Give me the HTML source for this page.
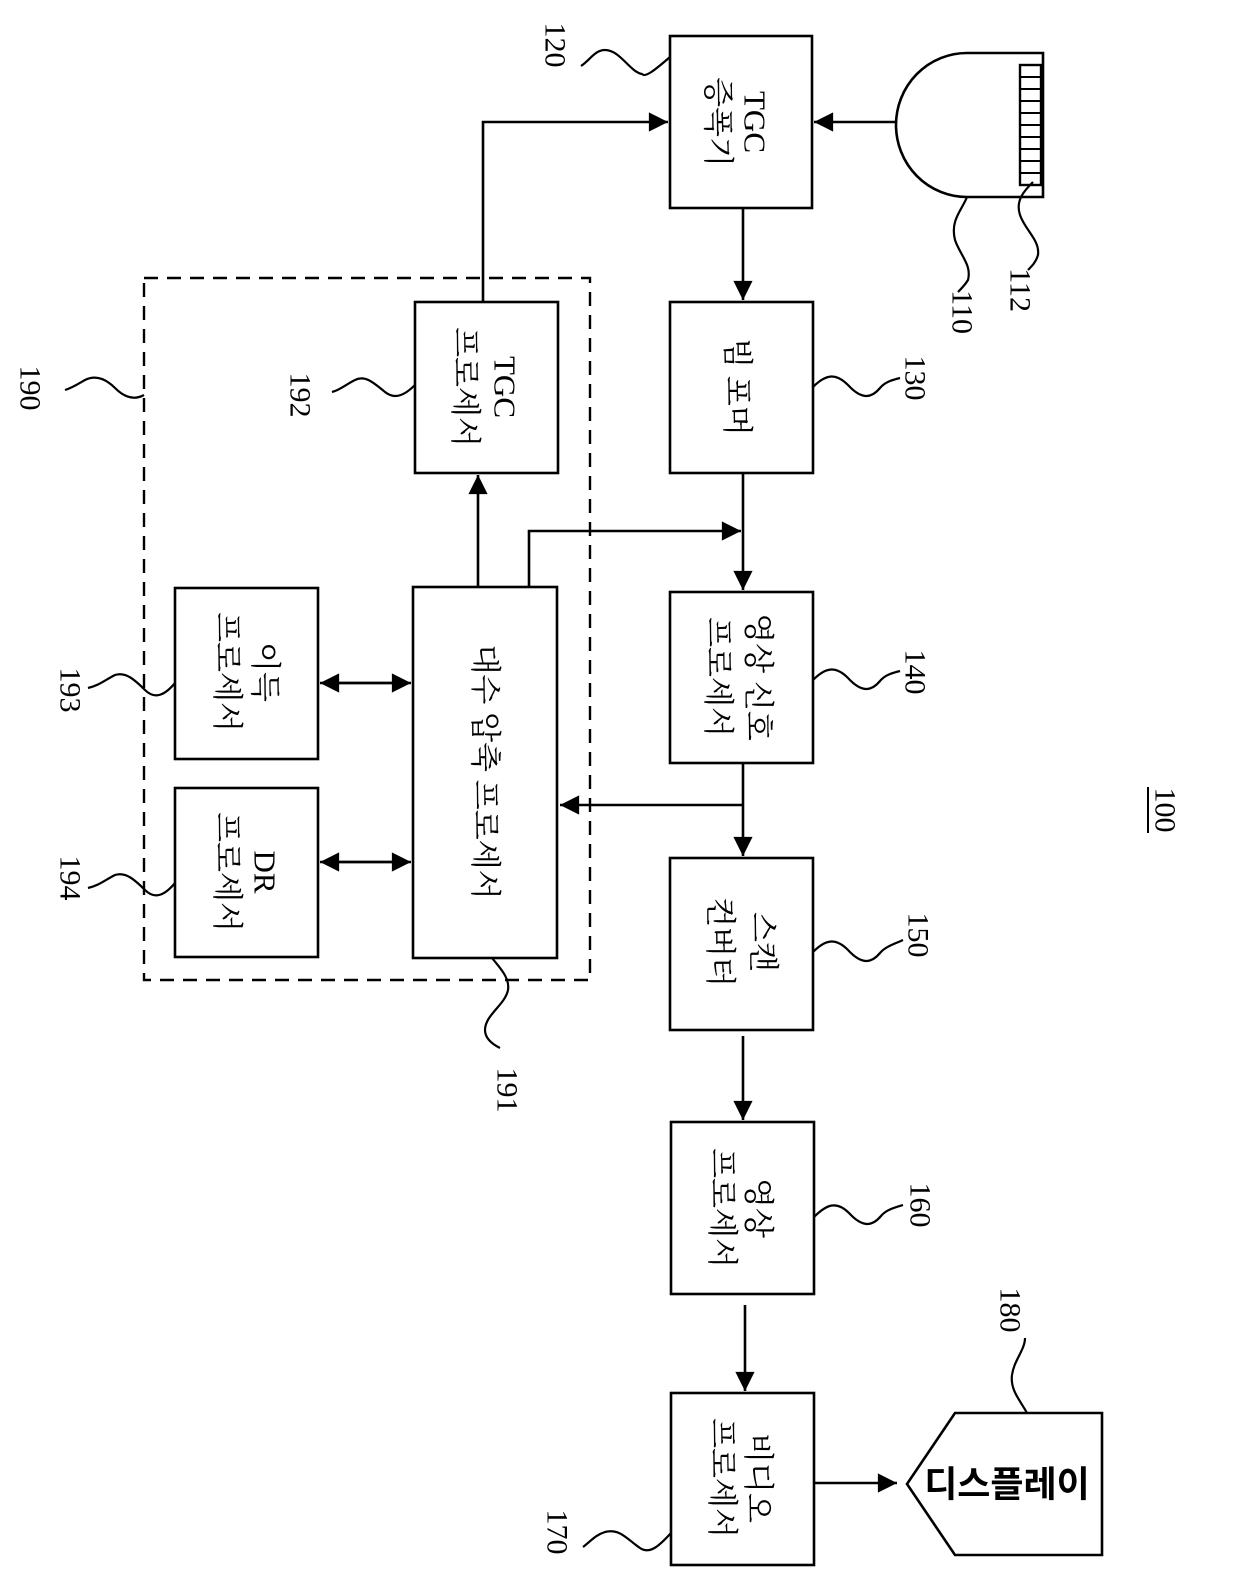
<!DOCTYPE html>
<html><head><meta charset="utf-8"><style>
html,body{margin:0;padding:0;background:#fff;}
svg{display:block;}
.k{font-family:"Liberation Serif","Noto Serif CJK SC","Noto Sans CJK KR",serif;font-size:31px;fill:#000;}
.n{font-family:"Liberation Serif",serif;font-size:30px;fill:#000;}
</style></head><body>
<svg width="1240" height="1584" viewBox="0 0 1240 1584" xmlns="http://www.w3.org/2000/svg">
<defs>
<marker id="a" viewBox="0 0 10 10" refX="10" refY="5" markerWidth="8" markerHeight="8" markerUnits="userSpaceOnUse" orient="auto" style="overflow:visible">
<path d="M0,0 L10,5 L0,10 z" fill="#000" transform="scale(2.4) translate(-5.8,-2.9)"/>
</marker>
</defs>
<g fill="none" stroke="#000" stroke-width="2.6">
<rect x="144" y="278" width="446" height="702" stroke-dasharray="14,9" stroke-width="2.4"/>
<rect x="670" y="36" width="142" height="172"/>
<rect x="670" y="302" width="143" height="171"/>
<rect x="670" y="592" width="143" height="171"/>
<rect x="670" y="858" width="143" height="172"/>
<rect x="671" y="1122" width="143" height="172"/>
<rect x="671" y="1393" width="143" height="172"/>
<rect x="415" y="302" width="143" height="171"/>
<rect x="413" y="587" width="144" height="371"/>
<rect x="175" y="588" width="143" height="171"/>
<rect x="175" y="788" width="143" height="169"/>
<path d="M955,1413 L1102,1413 L1102,1555 L955,1555 L907,1484 Z"/>
<path d="M1043,53 L967,53 A71,72 0 0 0 967,197 L1043,197 Z"/>
<rect x="1020" y="65" width="21" height="120" stroke-width="2.4"/>
<path d="M1020,77 H1041 M1020,89 H1041 M1020,101 H1041 M1020,113 H1041 M1020,125 H1041 M1020,137 H1041 M1020,149 H1041 M1020,161 H1041 M1020,173 H1041" stroke-width="2"/>
<path d="M896,122 L814,122" marker-end="url(#a)"/>
<path d="M483,302 L483,122 L668,122" marker-end="url(#a)"/>
<path d="M743,208 L743,300" marker-end="url(#a)"/>
<path d="M743,473 L743,590" marker-end="url(#a)"/>
<path d="M529,587 L529,531 L741,531" marker-end="url(#a)"/>
<path d="M478,587 L478,475" marker-end="url(#a)"/>
<path d="M743,763 L743,856" marker-end="url(#a)"/>
<path d="M743,805 L560,805" marker-end="url(#a)"/>
<path d="M743,1036 L743,1120" marker-end="url(#a)"/>
<path d="M745,1305 L745,1391" marker-end="url(#a)"/>
<path d="M814,1483 L897,1483" marker-end="url(#a)"/>
<path d="M330,683 L411,683" marker-end="url(#a)"/>
<path d="M400,683 L320,683" marker-end="url(#a)"/>
<path d="M330,862 L411,862" marker-end="url(#a)"/>
<path d="M400,862 L320,862" marker-end="url(#a)"/>
<g stroke-width="2.2">
<path d="M670,57 C655,70 645,78 642,74 C630,72 620,50 605,50 C595,50 590,60 581,66"/>
<path d="M813,387 C825,375 835,372 848,385 C860,398 870,400 880,388 C885,382 892,380 900,378"/>
<path d="M813,680 C825,668 835,665 848,678 C860,691 870,693 880,681 C885,675 892,673 900,671"/>
<path d="M813,952 C825,940 835,937 848,950 C860,963 870,965 880,953 C885,947 892,945 903,940"/>
<path d="M814,1217 C826,1205 836,1200 849,1213 C861,1226 871,1228 881,1216 C886,1210 893,1208 903,1205"/>
<path d="M671,1533 C660,1545 650,1555 640,1548 C628,1540 620,1528 605,1532 C595,1535 590,1542 583,1547"/>
<path d="M415,385 C405,395 395,400 385,392 C373,382 365,375 355,380 C345,385 340,390 332,392"/>
<path d="M175,683 C165,695 155,700 145,690 C133,678 125,672 115,675 C105,680 100,685 88,688"/>
<path d="M175,883 C165,895 155,900 145,890 C133,878 125,872 115,875 C105,880 100,885 88,888"/>
<path d="M144,395 C135,400 125,398 115,388 C105,378 95,375 85,380 C78,384 72,388 65,390"/>
<path d="M492,958 C500,968 510,978 508,990 C505,1005 485,1015 485,1030 C485,1038 492,1044 500,1048"/>
<path d="M967,197 C962,210 950,220 955,240 C960,255 972,265 968,280 C965,285 962,288 958,292"/>
<path d="M1033,182 C1025,190 1015,200 1020,215 C1025,230 1040,240 1038,255 C1036,262 1032,266 1028,270"/>
<path d="M1027,1413 C1020,1400 1010,1390 1012,1375 C1014,1360 1025,1350 1025,1338"/>
</g>
</g>
<g class="k" text-anchor="middle" dominant-baseline="central">
<text transform="translate(755,122) rotate(90)">TGC</text>
<text transform="translate(718,122) rotate(90)">증폭기</text>
<text transform="translate(737,387) rotate(90)">빔 포머</text>
<text transform="translate(505,387) rotate(90)">TGC</text>
<text transform="translate(465,387) rotate(90)">프로세서</text>
<text transform="translate(758,677) rotate(90)">영상 신호</text>
<text transform="translate(718,677) rotate(90)">프로세서</text>
<text transform="translate(485,772) rotate(90)">대수 압축 프로세서</text>
<text transform="translate(265,672) rotate(90)">이득</text>
<text transform="translate(227,672) rotate(90)">프로세서</text>
<text transform="translate(265,872) rotate(90)">DR</text>
<text transform="translate(227,872) rotate(90)">프로세서</text>
<text transform="translate(763,942) rotate(90)">스캔</text>
<text transform="translate(720,942) rotate(90)">컨버터</text>
<text transform="translate(758,1208) rotate(90)">영상</text>
<text transform="translate(722,1208) rotate(90)">프로세서</text>
<text transform="translate(758,1478) rotate(90)">비디오</text>
<text transform="translate(722,1478) rotate(90)">프로세서</text>
</g>
<text x="1007" y="1484" text-anchor="middle" dominant-baseline="central" font-family="'Liberation Sans','Noto Sans CJK KR',sans-serif" font-weight="bold" font-size="36">디스플레이</text>
<g class="n" text-anchor="middle" dominant-baseline="central">
<text transform="translate(555,45) rotate(90)">120</text>
<text transform="translate(962,312) rotate(90)">110</text>
<text transform="translate(1020,290) rotate(90)">112</text>
<text transform="translate(915,378) rotate(90)">130</text>
<text transform="translate(300,395) rotate(90)">192</text>
<text transform="translate(30,388) rotate(90)">190</text>
<text transform="translate(915,672) rotate(90)">140</text>
<text transform="translate(70,690) rotate(90)">193</text>
<text transform="translate(70,878) rotate(90)">194</text>
<text transform="translate(507,1090) rotate(90)">191</text>
<text transform="translate(918,935) rotate(90)">150</text>
<text transform="translate(920,1205) rotate(90)">160</text>
<text transform="translate(1010,1310) rotate(90)">180</text>
<text transform="translate(557,1532) rotate(90)">170</text>
<text transform="translate(1165,810) rotate(90)">100</text>
</g>
<line x1="1148" y1="787" x2="1148" y2="833" stroke="#000" stroke-width="2"/>
</svg>
</body></html>
